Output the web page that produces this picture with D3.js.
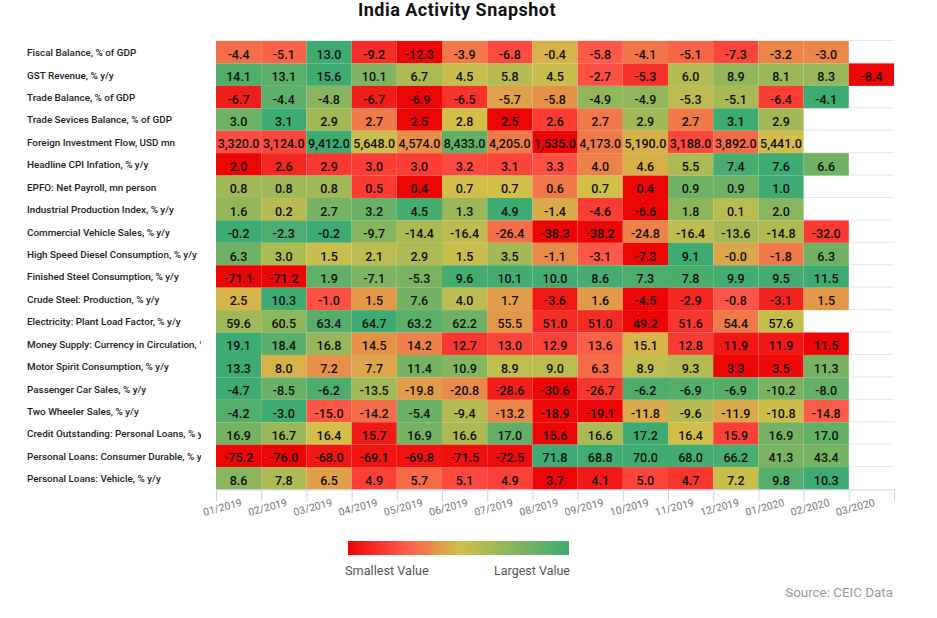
<!DOCTYPE html>
<html>
<head>
<meta charset="utf-8">
<title>India Activity Snapshot</title>
<script src="https://cdnjs.cloudflare.com/ajax/libs/d3/7.8.5/d3.min.js"></script>
<style>
html, body { margin: 0; padding: 0; background: #fff; }
text { font-family: Roboto, sans-serif; }
</style>
</head>
<body>
<div id="chart"></div>
<script>
var months = ["01/2019","02/2019","03/2019","04/2019","05/2019","06/2019","07/2019","08/2019","09/2019","10/2019","11/2019","12/2019","01/2020","02/2020","03/2020"];

var fiscalBalance = [-4.4,-5.1,13.0,-9.2,-12.3,-3.9,-6.8,-0.4,-5.8,-4.1,-5.1,-7.3,-3.2,-3.0,null];
var gstRevenue = [14.1,13.1,15.6,10.1,6.7,4.5,5.8,4.5,-2.7,-5.3,6.0,8.9,8.1,8.3,-8.4];
var tradeBalance = [-6.7,-4.4,-4.8,-6.7,-6.9,-6.5,-5.7,-5.8,-4.9,-4.9,-5.3,-5.1,-6.4,-4.1,null];
var tradeServices = [3.0,3.1,2.9,2.7,2.5,2.8,2.5,2.6,2.7,2.9,2.7,3.1,2.9,null,null];
var foreignInvestment = [3320,3124,9412,5648,4574,8433,4205,1535,4173,5190,3188,3892,5441,null,null];
var headlineCpi = [2.0,2.6,2.9,3.0,3.0,3.2,3.1,3.3,4.0,4.6,5.5,7.4,7.6,6.6,null];
var epfoPayroll = [0.8,0.8,0.8,0.5,0.4,0.7,0.7,0.6,0.7,0.4,0.9,0.9,1.0,null,null];
var industrialProduction = [1.6,0.2,2.7,3.2,4.5,1.3,4.9,-1.4,-4.6,-6.6,1.8,0.1,2.0,null,null];
var commercialVehicles = [-0.2,-2.3,-0.2,-9.7,-14.4,-16.4,-26.4,-38.3,-38.2,-24.8,-16.4,-13.6,-14.8,-32.0,null];
var dieselConsumption = [6.3,3.0,1.5,2.1,2.9,1.5,3.5,-1.1,-3.1,-7.3,9.1,-0.04,-1.8,6.3,null];
var steelConsumption = [-71.1,-71.2,1.9,-7.1,-5.3,9.6,10.1,10.0,8.6,7.3,7.8,9.9,9.5,11.5,null];
var crudeSteel = [2.5,10.3,-1.0,1.5,7.6,4.0,1.7,-3.6,1.6,-4.5,-2.9,-0.8,-3.1,1.5,null];
var plantLoad = [59.6,60.5,63.4,64.7,63.2,62.2,55.5,51.0,51.0,49.2,51.6,54.4,57.6,null,null];
var currencyCirculation = [19.1,18.4,16.8,14.5,14.2,12.7,13.0,12.9,13.6,15.1,12.8,11.9,11.9,11.5,null];
var motorSpirit = [13.3,8.0,7.2,7.7,11.4,10.9,8.9,9.0,6.3,8.9,9.3,3.3,3.5,11.3,null];
var passengerCars = [-4.7,-8.5,-6.2,-13.5,-19.8,-20.8,-28.6,-30.6,-26.7,-6.2,-6.9,-6.9,-10.2,-8.0,null];
var twoWheelers = [-4.2,-3.0,-15.0,-14.2,-5.4,-9.4,-13.2,-18.9,-19.1,-11.8,-9.6,-11.9,-10.8,-14.8,null];
var personalCredit = [16.9,16.7,16.4,15.7,16.9,16.6,17.0,15.6,16.6,17.2,16.4,15.9,16.9,17.0,null];
var consumerDurable = [-75.2,-76.0,-68.0,-69.1,-69.8,-71.5,-72.5,71.8,68.8,70.0,68.0,66.2,41.3,43.4,null];
var vehicleLoans = [8.6,7.8,6.5,4.9,5.7,5.1,4.9,3.7,4.1,5.0,4.7,7.2,9.8,10.3,null];

var indicators = ["Fiscal Balance, % of GDP","GST Revenue, % y/y","Trade Balance, % of GDP","Trade Sevices Balance, % of GDP","Foreign Investment Flow, USD mn","Headline CPI Infation, % y/y","EPFO: Net Payroll, mn person","Industrial Production Index, % y/y","Commercial Vehicle Sales, % y/y","High Speed Diesel Consumption, % y/y","Finished Steel Consumption, % y/y","Crude Steel: Production, % y/y","Electricity: Plant Load Factor, % y/y","Money Supply: Currency in Circulation, % y/y","Motor Spirit Consumption, % y/y","Passenger Car Sales, % y/y","Two Wheeler Sales, % y/y","Credit Outstanding: Personal Loans, % y/y","Personal Loans: Consumer Durable, % y/y","Personal Loans: Vehicle, % y/y"];

var rows = [fiscalBalance,gstRevenue,tradeBalance,tradeServices,foreignInvestment,headlineCpi,epfoPayroll,industrialProduction,commercialVehicles,dieselConsumption,steelConsumption,crudeSteel,plantLoad,currencyCirculation,motorSpirit,passengerCars,twoWheelers,personalCredit,consumerDurable,vehicleLoans];

var colorStops = [0, 0.25, 0.5, 1];
var colorValues = ["#ec0606", "#ff5548", "#d2bf4a", "#3dab72"];

var width = 937,
	height = 618,
	left = 216,
	right = 894,
	top_ = 41,
	bottom = 489.5;

var svg = d3.select("#chart").append("svg")
	.attr("width", width)
	.attr("height", height)
	.style("display", "block");

var x = d3.scaleBand().domain(months).range([left, right]);
var y = d3.scaleBand().domain(indicators).range([top_, bottom]);
var color = d3.scaleLinear().domain(colorStops).range(colorValues);

svg.append("text")
	.attr("x", 457)
	.attr("y", 16)
	.attr("text-anchor", "middle")
	.style("font-size", "18px")
	.style("font-weight", "700")
	.style("letter-spacing", "0.5px")
	.style("fill", "#111")
	.text("India Activity Snapshot");

// row separators show through where a series has no value
svg.append("g").selectAll("line")
	.data(indicators)
	.enter().append("line")
	.attr("x1", left)
	.attr("x2", right)
	.attr("y1", function(d){ return y(d) - 0.5; })
	.attr("y2", function(d){ return y(d) - 0.5; })
	.style("stroke", "#e6e6e6");

var cells = [];
rows.forEach(function(values, r){
	// every row has its own min-max colour range
	var t = d3.scaleLinear().domain(d3.extent(values));
	values.forEach(function(v, c){
		if (v !== null) cells.push({row: indicators[r], month: months[c], value: v, t: t(v)});
	});
});

var cell = svg.append("g").selectAll("g")
	.data(cells)
	.enter().append("g");

cell.append("rect")
	.attr("x", function(d){ return x(d.month); })
	.attr("y", function(d){ return y(d.row); })
	.attr("width", x.bandwidth())
	.attr("height", y.bandwidth())
	.style("fill", function(d){ return color(d.t); });

cell.append("text")
	.attr("x", function(d){ return x(d.month) + x.bandwidth() / 2; })
	.attr("y", function(d){ return y(d.row) + y.bandwidth() / 2 + 6.5; })
	.attr("text-anchor", "middle")
	.style("font-size", "12.5px")
	.style("font-weight", "500")
	.style("fill", "#111")
	.text(function(d){
		return d.value.toLocaleString("en-US", {minimumFractionDigits: 1, maximumFractionDigits: 1});
	});

// long row labels get cut at the edge of the label column
svg.append("clipPath").attr("id", "labelClip")
	.append("rect")
	.attr("x", 20)
	.attr("y", 30)
	.attr("width", 181)
	.attr("height", 470);

svg.append("g")
	.attr("clip-path", "url(#labelClip)")
	.selectAll("text")
	.data(indicators)
	.enter().append("text")
	.attr("x", 27)
	.attr("y", function(d){ return y(d) + y.bandwidth() / 2 + 4; })
	.style("font-size", "9.9px")
	.style("font-weight", "500")
	.style("fill", "#222")
	.text(function(d){ return d; });

// ticks sit on the cell edges, one more than there are months
var tickScale = d3.scalePoint().domain(months.concat("end")).range([left, right]);

var axis = svg.append("g")
	.attr("transform", "translate(0," + bottom + ")")
	.call(d3.axisBottom(tickScale).tickSize(12).tickSizeOuter(0).tickFormat(function(d){ return d === "end" ? "" : d; }));

axis.select(".domain").style("stroke", "#ccd6eb");
axis.selectAll(".tick line").style("stroke", "#ccd6eb");
axis.selectAll(".tick text")
	.attr("transform", "translate(6,18) rotate(-15)")
	.attr("x", 0)
	.attr("y", 0)
	.attr("dy", "0.32em")
	.style("font-family", "Roboto, sans-serif")
	.style("font-size", "10.5px")
	.style("text-anchor", "middle")
	.style("fill", "#777");

// legend
var gradient = svg.append("defs").append("linearGradient").attr("id", "legendGradient");
gradient.selectAll("stop")
	.data(colorStops)
	.enter().append("stop")
	.attr("offset", function(d){ return d * 100 + "%"; })
	.attr("stop-color", function(d, i){ return colorValues[i]; });

svg.append("rect")
	.attr("x", 348)
	.attr("y", 541)
	.attr("width", 221)
	.attr("height", 14)
	.style("fill", "url(#legendGradient)");

svg.append("text")
	.attr("x", 345)
	.attr("y", 575)
	.style("font-size", "12.7px")
	.style("fill", "#555")
	.text("Smallest Value");

svg.append("text")
	.attr("x", 570)
	.attr("y", 575)
	.attr("text-anchor", "end")
	.style("font-size", "12.5px")
	.style("fill", "#555")
	.text("Largest Value");

svg.append("text")
	.attr("x", 893)
	.attr("y", 597)
	.attr("text-anchor", "end")
	.style("font-size", "13.4px")
	.style("fill", "#999")
	.text("Source: CEIC Data");
</script>
</body>
</html>
